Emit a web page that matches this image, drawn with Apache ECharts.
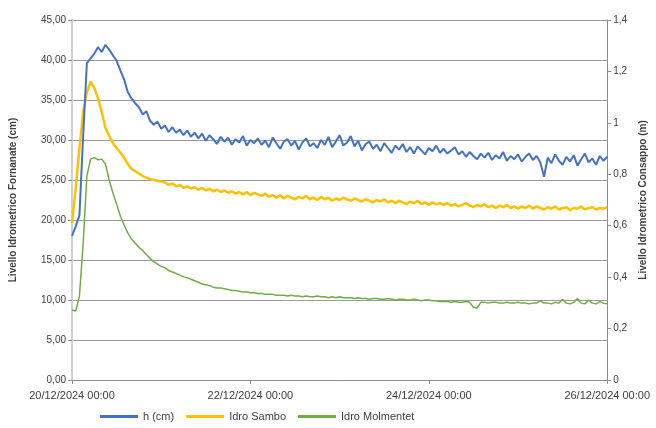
<!DOCTYPE html>
<html>
<head>
<meta charset="utf-8">
<script src="https://cdn.jsdelivr.net/npm/echarts@6/dist/echarts.min.js"></script>
<style>
html,body{margin:0;padding:0;background:#fff;}
#chart{width:656px;height:428px;}
</style>
</head>
<body>
<div id="chart"></div>
<script>
// x positions: hours since 20/12/2024 00:00, one sample per hour (index = hour)
const startDate = [2024, 11, 20];
const stepHours = 1;
const xTickHours = [0, 48, 96, 144];

// h (cm) - left axis (cm)
const hCm = [
  18.0, 19.2, 20.6, 30.5, 39.6, 40.2, 40.8, 41.6, 41.0, 41.9, 41.3, 40.6, 39.9, 38.7, 37.6, 36.0, 35.2, 34.6, 34.1, 33.2, 33.6, 32.4, 31.9, 32.3, 31.4,
  31.8, 31.0, 31.6, 30.9, 31.3, 30.6, 31.2, 30.4, 30.9, 30.2, 30.8, 29.9, 30.6, 30.1, 29.5, 30.4, 29.8, 30.3, 29.4, 30.1, 29.7, 30.5, 29.3, 30.0, 29.6,
  30.2, 29.4, 29.9, 29.1, 30.3, 29.6, 28.9, 29.8, 30.1, 29.3, 29.9, 28.8, 29.7, 30.2, 29.2, 29.6, 29.0, 30.0, 29.4, 30.4, 29.1, 29.8, 30.6, 29.3, 29.7,
  30.5, 29.2, 29.9, 28.7, 29.5, 29.8, 28.9, 29.4, 28.6, 29.6, 29.0, 28.4, 29.3, 28.8, 29.5, 28.5, 29.1, 28.3, 29.2, 28.7, 28.2, 29.0, 28.6, 29.3, 28.4,
  28.9, 28.3, 28.7, 29.1, 28.2, 28.6, 27.9, 28.5, 28.0, 27.6, 28.3, 27.8, 28.4, 27.5, 28.1, 27.7, 28.5, 27.4, 28.0, 27.6, 28.2, 27.3, 27.9, 28.3, 27.5,
  28.0, 27.2, 25.4, 27.8, 27.1, 28.2, 27.4, 26.9, 27.9, 27.3, 28.1, 26.8, 27.6, 28.3, 27.2, 27.7, 26.9, 28.0, 27.4, 27.9
];

// Idro Sambo - right axis (m)
const idroSambo = [
  0.610, 0.747, 0.902, 1.042, 1.120, 1.160, 1.136, 1.095, 1.042, 0.980, 0.949, 0.921, 0.902, 0.884, 0.865, 0.840, 0.821, 0.812, 0.803, 0.793, 0.787, 0.781, 0.778, 0.775, 0.772,
  0.768, 0.759, 0.765, 0.753, 0.759, 0.747, 0.753, 0.744, 0.750, 0.740, 0.747, 0.737, 0.744, 0.734, 0.740, 0.731, 0.737, 0.728, 0.734, 0.725, 0.731, 0.722, 0.731, 0.719, 0.728,
  0.722, 0.716, 0.725, 0.712, 0.719, 0.709, 0.719, 0.706, 0.716, 0.709, 0.703, 0.712, 0.706, 0.716, 0.703, 0.709, 0.700, 0.712, 0.703, 0.709, 0.697, 0.706, 0.700, 0.709, 0.703,
  0.697, 0.706, 0.700, 0.694, 0.703, 0.697, 0.691, 0.700, 0.694, 0.703, 0.691, 0.697, 0.688, 0.697, 0.691, 0.684, 0.694, 0.688, 0.697, 0.684, 0.691, 0.681, 0.691, 0.684, 0.688,
  0.681, 0.688, 0.678, 0.684, 0.675, 0.681, 0.688, 0.678, 0.672, 0.681, 0.675, 0.684, 0.672, 0.678, 0.669, 0.678, 0.672, 0.681, 0.669, 0.675, 0.666, 0.675, 0.669, 0.678, 0.666,
  0.675, 0.669, 0.663, 0.672, 0.666, 0.675, 0.663, 0.669, 0.672, 0.660, 0.669, 0.666, 0.675, 0.663, 0.669, 0.672, 0.663, 0.669, 0.666, 0.672
];

// Idro Molmentet - right axis (m)
const idroMolmentet = [
  0.272, 0.268, 0.327, 0.529, 0.793, 0.859, 0.865, 0.856, 0.859, 0.840, 0.778, 0.728, 0.684, 0.638, 0.604, 0.572, 0.548, 0.532, 0.516, 0.504, 0.488, 0.473, 0.460, 0.451, 0.442,
  0.436, 0.426, 0.420, 0.414, 0.408, 0.401, 0.398, 0.392, 0.386, 0.380, 0.373, 0.370, 0.367, 0.361, 0.358, 0.358, 0.355, 0.352, 0.348, 0.348, 0.345, 0.342, 0.342, 0.339, 0.339,
  0.336, 0.336, 0.333, 0.333, 0.333, 0.330, 0.330, 0.330, 0.327, 0.330, 0.327, 0.327, 0.324, 0.327, 0.324, 0.324, 0.327, 0.324, 0.324, 0.320, 0.324, 0.320, 0.324, 0.320, 0.320,
  0.320, 0.317, 0.320, 0.317, 0.317, 0.314, 0.317, 0.317, 0.314, 0.314, 0.317, 0.314, 0.311, 0.314, 0.314, 0.311, 0.311, 0.314, 0.311, 0.308, 0.311, 0.311, 0.308, 0.308, 0.305,
  0.305, 0.305, 0.302, 0.305, 0.302, 0.302, 0.305, 0.302, 0.283, 0.280, 0.302, 0.302, 0.299, 0.302, 0.302, 0.299, 0.299, 0.302, 0.299, 0.299, 0.302, 0.299, 0.299, 0.296, 0.299,
  0.299, 0.308, 0.299, 0.299, 0.296, 0.302, 0.299, 0.314, 0.299, 0.296, 0.302, 0.317, 0.299, 0.296, 0.311, 0.299, 0.296, 0.305, 0.299, 0.296
];

const seriesNames = ['h (cm)', 'Idro Sambo', 'Idro Molmentet'];
const leftAxisName = 'Livello Idrometrico Fornanate (cm)';
const rightAxisName = 'Livello Idrometrico Consappo (m)';

function pairs(arr) { return arr.map((v, i) => [i * stepHours, v]); }
function pad(n) { return (n < 10 ? '0' : '') + n; }
function fmtHour(h) {
  const d = new Date(startDate[0], startDate[1], startDate[2]);
  d.setHours(d.getHours() + h);
  return pad(d.getDate()) + '/' + pad(d.getMonth() + 1) + '/' + d.getFullYear() + ' ' + pad(d.getHours()) + ':' + pad(d.getMinutes());
}

const FONT = 'Liberation Sans, Arial, sans-serif';
const chart = echarts.init(document.getElementById('chart'), null, { renderer: 'canvas' });
chart.setOption({
  backgroundColor: '#ffffff',
  animation: false,
  textStyle: { fontFamily: FONT },
  grid: { left: 68, right: 44, top: 20, bottom: 48 },
  legend: {
    data: seriesNames,
    left: 95,
    top: 406,
    itemWidth: 38,
    itemHeight: 3,
    itemGap: 12,
    icon: 'rect',
    textStyle: { fontSize: 11, color: '#404040', fontFamily: FONT }
  },
  xAxis: {
    type: 'value',
    min: 0,
    max: 144,
    interval: 48,
    axisLine: { show: true, lineStyle: { color: '#8c8c8c', width: 1 } },
    axisTick: { show: true, length: 4, lineStyle: { color: '#8c8c8c' } },
    splitLine: { show: false },
    axisLabel: {
      fontSize: 11, color: '#404040', margin: 10,
      formatter: function (v) { return fmtHour(v); }
    }
  },
  yAxis: [
    {
      type: 'value',
      min: 0, max: 45, interval: 5,
      position: 'left',
      name: leftAxisName,
      nameLocation: 'middle',
      nameRotate: 90,
      nameGap: 54,
      nameTextStyle: { fontSize: 10, fontWeight: 'bold', color: '#404040' },
      axisLine: { show: true, lineStyle: { color: '#d0d0d0', width: 2 } },
      axisTick: { show: true, length: 4, lineStyle: { color: '#8c8c8c' } },
      splitLine: { show: true, lineStyle: { color: '#9a9a9a', width: 1 } },
      axisLabel: {
        fontSize: 10, color: '#404040', margin: 6,
        formatter: function (v) { return v.toFixed(2).replace('.', ','); }
      }
    },
    {
      type: 'value',
      min: 0, max: 1.4, interval: 0.2,
      position: 'right',
      name: rightAxisName,
      nameLocation: 'middle',
      nameRotate: 90,
      nameGap: 30,
      nameTextStyle: { fontSize: 10, fontWeight: 'bold', color: '#404040' },
      axisLine: { show: true, lineStyle: { color: '#8c8c8c', width: 1 } },
      axisTick: { show: true, length: 4, lineStyle: { color: '#8c8c8c' } },
      splitLine: { show: false },
      axisLabel: {
        fontSize: 10, color: '#404040', margin: 6,
        formatter: function (v) { return (Math.round(v * 10) / 10).toString().replace('.', ','); }
      }
    }
  ],
  series: [
    {
      name: seriesNames[0], type: 'line', yAxisIndex: 0, data: pairs(hCm),
      showSymbol: false, symbol: 'none', color: '#4472C4',
      lineStyle: { width: 2, color: '#4472C4' }, z: 3
    },
    {
      name: seriesNames[1], type: 'line', yAxisIndex: 1, data: pairs(idroSambo),
      showSymbol: false, symbol: 'none', color: '#FFC000',
      lineStyle: { width: 2.5, color: '#FFC000' }, z: 2
    },
    {
      name: seriesNames[2], type: 'line', yAxisIndex: 1, data: pairs(idroMolmentet),
      showSymbol: false, symbol: 'none', color: '#70AD47',
      lineStyle: { width: 1.5, color: '#70AD47' }, z: 1
    }
  ]
});
</script>
</body>
</html>
